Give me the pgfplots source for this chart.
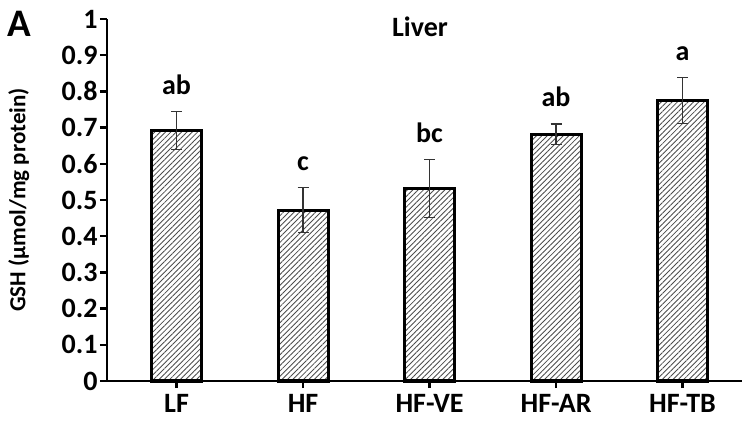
\documentclass[border=0pt]{standalone}
\usepackage{pgfplots}
\pgfplotsset{compat=1.18}
\usetikzlibrary{patterns.meta}
\usepackage{fontspec}
\setmainfont{Carlito}
\newcommand{\lblfont}{\fontsize{28bp}{33bp}\selectfont\bfseries}
\begin{document}
\begin{tikzpicture}
\path[use as bounding box] (-107bp,-45bp) rectangle (641bp,381bp);
\begin{axis}[
  at={(0,0)}, anchor=south west,
  scale only axis, width=635bp, height=362bp,
  xmin=-0.55, xmax=4.47, ymin=0, ymax=1,
  axis lines=left, axis line style={line width=2.5bp, -},
  xtick={0,1,2,3,4}, xticklabels={LF,HF,HF-VE,HF-AR,HF-TB},
  ytick={0,0.1,0.2,0.3,0.4,0.5,0.6,0.7,0.8,0.9,1},
  yticklabels={0,0.1,0.2,0.3,0.4,0.5,0.6,0.7,0.8,0.9,1},
  tick align=outside, major tick length=7bp,
  tick style={line width=2.5bp, black},
  ticklabel style={font=\lblfont},
  yticklabel style={xshift=1bp},
  xticklabel style={yshift=-3bp},
  /pgf/number format/assume math mode=true,
  ylabel={GSH (µmol/mg protein)},
  ylabel style={font=\fontsize{23bp}{27bp}\selectfont\bfseries, at={(axis description cs:-0.139,0.5)}, anchor=center},
  clip=false,
]
\addplot[ybar, bar width=50bp, draw=black, line width=3bp,
  pattern={Lines[angle=45,distance=3.8pt,line width=0.85pt]}, pattern color=black!70,
  error bars/.cd, y dir=both, y explicit,
  error bar style={line width=1.2bp, black!80, solid},
  error mark options={rotate=90, mark size=5.5bp, line width=1.2bp, black!80}]
coordinates {
(0,0.692) +- (0,0.052)
(1,0.472) +- (0,0.062)
(2,0.531) +- (0,0.08)
(3,0.682) +- (0,0.028)
(4,0.775) +- (0,0.063)
};
\node[anchor=base, yshift=17bp, font=\lblfont] at (axis cs:0,0.744) {ab};
\node[anchor=base, yshift=17bp, font=\lblfont] at (axis cs:1,0.534) {c};
\node[anchor=base, yshift=17bp, font=\lblfont] at (axis cs:2,0.611) {bc};
\node[anchor=base, yshift=17bp, font=\lblfont] at (axis cs:3,0.710) {ab};
\node[anchor=base, yshift=17bp, font=\lblfont] at (axis cs:4,0.838) {a};
\end{axis}
\node[anchor=base west, inner sep=0, font=\fontsize{39bp}{45bp}\selectfont\bfseries] at (-100bp,344bp) {A};
\node[anchor=base, inner sep=0, font=\lblfont] at (313bp,344bp) {Liver};
\end{tikzpicture}
\end{document}
